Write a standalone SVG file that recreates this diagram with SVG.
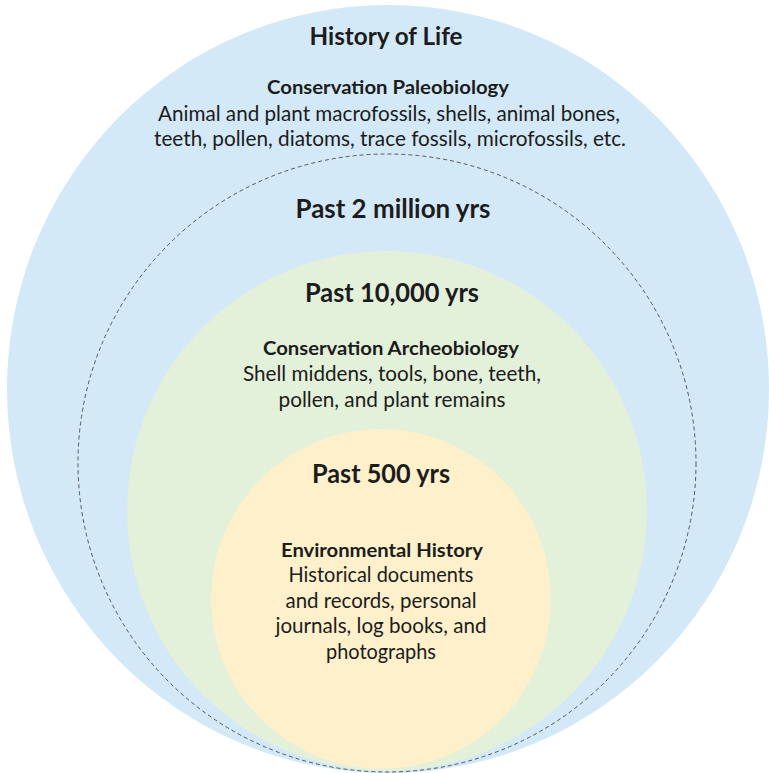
<svg xmlns="http://www.w3.org/2000/svg" width="769" height="773" viewBox="0 0 769 773">
  <style>
    text { font-family: Lato, "Open Sans", "Liberation Sans", sans-serif; fill: #1c1c1c; text-anchor: middle; }
    .h1 { font-size: 24px; font-weight: bold; }
    .h2 { font-size: 26.5px; font-weight: bold; }
    .h3 { font-size: 19px; font-weight: bold; }
    .b { font-size: 20.5px; }
  </style>
  <rect x="0" y="0" width="769" height="773" fill="#ffffff"/>
  <g id="history-of-life">
    <ellipse cx="388" cy="389" rx="381" ry="384" fill="#d3e9f7"/>
    <text class="h1" x="386" y="45" textLength="153" lengthAdjust="spacingAndGlyphs">History of Life</text>
    <text class="h3" x="388" y="94" textLength="242" lengthAdjust="spacingAndGlyphs">Conservation Paleobiology</text>
    <text class="b" x="389" y="121" textLength="462" lengthAdjust="spacingAndGlyphs">Animal and plant macrofossils, shells, animal bones,</text>
    <text class="b" x="390" y="146" textLength="472" lengthAdjust="spacingAndGlyphs">teeth, pollen, diatoms, trace fossils, microfossils, etc.</text>
  </g>
  <g id="past-2-million">
    <circle cx="387" cy="463" r="309" fill="none" stroke="#555" stroke-width="1" stroke-dasharray="4 3"/>
    <text class="h2" x="393" y="218" textLength="195" lengthAdjust="spacingAndGlyphs">Past 2 million yrs</text>
  </g>
  <g id="past-10000">
    <circle cx="387" cy="511" r="260" fill="#e3f0da"/>
    <text class="h2" x="392" y="302" textLength="174" lengthAdjust="spacingAndGlyphs">Past 10,000 yrs</text>
    <text class="h3" x="391" y="355" textLength="256" lengthAdjust="spacingAndGlyphs">Conservation Archeobiology</text>
    <text class="b" x="392" y="381" textLength="298" lengthAdjust="spacingAndGlyphs">Shell middens, tools, bone, teeth,</text>
    <text class="b" x="392" y="407" textLength="227" lengthAdjust="spacingAndGlyphs">pollen, and plant remains</text>
  </g>
  <g id="past-500">
    <circle cx="381" cy="599" r="170" fill="#fdf0cb"/>
    <text class="h2" x="381" y="483" textLength="138" lengthAdjust="spacingAndGlyphs">Past 500 yrs</text>
    <text class="h3" x="382" y="557" textLength="202" lengthAdjust="spacingAndGlyphs">Environmental History</text>
    <text class="b" x="381" y="582" textLength="185" lengthAdjust="spacingAndGlyphs">Historical documents</text>
    <text class="b" x="381" y="608" textLength="191" lengthAdjust="spacingAndGlyphs">and records, personal</text>
    <text class="b" x="381" y="633" textLength="211" lengthAdjust="spacingAndGlyphs">journals, log books, and</text>
    <text class="b" x="381" y="659" textLength="110" lengthAdjust="spacingAndGlyphs">photographs</text>
  </g>
</svg>
